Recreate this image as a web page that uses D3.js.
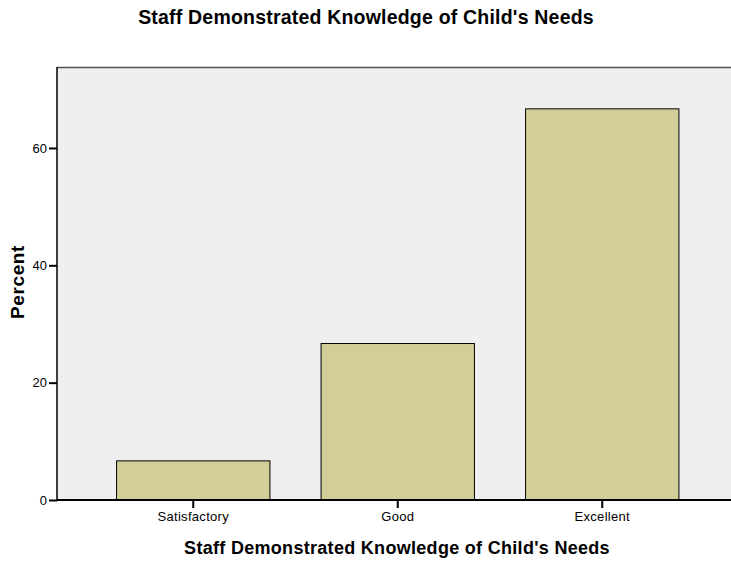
<!DOCTYPE html>
<html><head><meta charset="utf-8">
<script src="https://cdn.jsdelivr.net/npm/d3@7"></script>
<style>body{margin:0;background:#fff;}svg{display:block;font-family:"Liberation Sans",Arial,sans-serif;}</style>
</head><body>
<script>
const categories = ["Satisfactory", "Good", "Excellent"];
const percents = [6.67, 26.67, 66.67];
const yTicks = [0, 20, 40, 60];
const title = "Staff Demonstrated Knowledge of Child's Needs";
const xLabel = "Staff Demonstrated Knowledge of Child's Needs";
const yLabel = "Percent";

(function () {
const W = 731, H = 561;
const svg = d3.select("body").append("svg").attr("width", W).attr("height", H);
const pL = 57, pR = 731, pT = 67, pB = 500;

const x = d3.scaleBand().domain(categories).range([91, 704.5]).paddingInner(0.25).paddingOuter(0.125);
const y = d3.scaleLinear().domain([0, 73.8]).range([pB, pT]);

svg.append("rect").attr("x", pL).attr("y", pT).attr("width", pR - pL).attr("height", pB - pT).attr("fill", "#efefef");
svg.append("line").attr("x1", pL).attr("x2", pR).attr("y1", pT + 0.5).attr("y2", pT + 0.5).attr("stroke", "#555").attr("stroke-width", 1.5);

svg.selectAll("rect.bar").data(percents).join("rect").attr("class", "bar")
  .attr("x", (d, i) => x(categories[i]))
  .attr("y", d => y(d))
  .attr("width", x.bandwidth())
  .attr("height", d => y(0) - y(d))
  .attr("fill", "#d3ce98").attr("stroke", "#000").attr("stroke-width", 1);

const yAxis = svg.append("g").attr("transform", `translate(${pL},0)`)
  .call(d3.axisLeft(y).tickValues(yTicks).tickSize(8).tickPadding(2).tickFormat(d3.format("d")));
yAxis.select(".domain").remove();
yAxis.selectAll(".tick line").attr("stroke", "#000").attr("stroke-width", 2);
yAxis.selectAll("text").attr("font-size", 13).attr("fill", "#000").attr("font-family", "Liberation Sans, Arial, sans-serif");
svg.append("line").attr("x1", pL).attr("x2", pL).attr("y1", pT).attr("y2", pB).attr("stroke", "#000").attr("stroke-width", 1.5);

const xAxis = svg.append("g").attr("transform", `translate(0,${pB})`)
  .call(d3.axisBottom(x).tickSize(8).tickPadding(4));
xAxis.select(".domain").remove();
xAxis.selectAll(".tick line").attr("stroke", "#000").attr("stroke-width", 2);
xAxis.selectAll("text").attr("font-size", 13).attr("letter-spacing", 0.3).attr("fill", "#000").attr("font-family", "Liberation Sans, Arial, sans-serif");
svg.append("line").attr("x1", pL).attr("x2", pR).attr("y1", pB).attr("y2", pB).attr("stroke", "#000").attr("stroke-width", 2);

svg.append("text").attr("x", 366).attr("y", 24).attr("text-anchor", "middle")
  .attr("font-size", 19.5).attr("letter-spacing", 0.2).attr("font-weight", "bold").text(title);
svg.append("text").attr("x", 397).attr("y", 554).attr("text-anchor", "middle")
  .attr("font-size", 18).attr("letter-spacing", 0.3).attr("font-weight", "bold").text(xLabel);
svg.append("text").attr("transform", "translate(24,282) rotate(-90)").attr("text-anchor", "middle")
  .attr("font-size", 19).attr("letter-spacing", 0.6).attr("font-weight", "bold").text(yLabel);
})();
</script>
</body></html>
